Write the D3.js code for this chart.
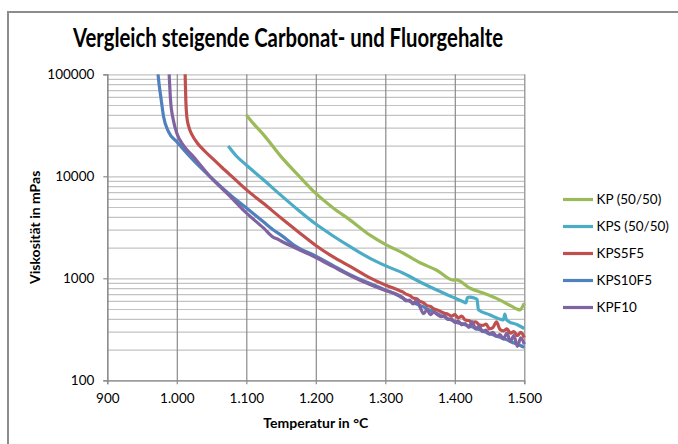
<!DOCTYPE html>
<html>
<head>
<meta charset="utf-8">
<script src="https://cdn.jsdelivr.net/npm/d3@7"></script>
<style>
  body { margin: 0; background: #fff; }
  svg { display: block; }
  text { font-family: Lato, "Liberation Sans", sans-serif; fill: #000; }
</style>
</head>
<body>
<div id="chart"></div>
<script>
// series values (temperature in °C, viscosity in mPas)
var kpT = [1100, 1110, 1125, 1150, 1175, 1200, 1225, 1250, 1278, 1300, 1326, 1350, 1374, 1398, 1402, 1422, 1440, 1460, 1480, 1490, 1494, 1497, 1500];
var kpV = [40000, 33000, 25500, 15600, 10200, 6800, 4900, 3700, 2650, 2150, 1760, 1420, 1200, 960, 965, 800, 720, 635, 540, 497, 490, 520, 570];

var kpsT = [1074, 1085, 1100, 1125, 1150, 1175, 1200, 1225, 1250, 1278, 1300, 1326, 1350, 1374, 1400, 1412, 1416, 1418, 1421, 1428, 1432, 1434, 1450, 1470, 1472, 1474, 1477, 1490, 1500];
var kpsV = [19800, 16000, 12900, 9200, 6500, 4650, 3400, 2600, 2030, 1570, 1330, 1120, 920, 767, 640, 590, 575, 645, 655, 640, 620, 490, 440, 392, 445, 395, 380, 350, 322];

var kps5T = [1012, 1013, 1014.5, 1017, 1022, 1030, 1040, 1052, 1065, 1081, 1100, 1125, 1150, 1175, 1200, 1225, 1250, 1278, 1300,
  1320, 1325, 1330, 1335, 1340, 1345, 1350, 1355, 1360, 1365, 1370, 1375, 1380, 1385, 1390, 1395, 1400, 1405, 1410, 1415,
  1420, 1425, 1430, 1435, 1440, 1445, 1450, 1455, 1460, 1465, 1470, 1475, 1480, 1485, 1490, 1495, 1500];
var kps5V = [100000, 55000, 38000, 31000, 25500, 21000, 17700, 14800, 12200, 9700, 7400, 5400, 3900, 2850, 2100, 1620, 1300, 1010, 860,
  760, 735, 700, 680, 640, 630, 595, 575, 540, 530, 500, 490, 470, 455, 445, 425, 440, 410, 425, 390,
  385, 370, 375, 350, 345, 355, 320, 330, 375, 315, 305, 320, 290, 300, 275, 295, 262];

var kps10T = [973, 975, 977, 981, 988, 1000, 1019, 1048, 1077, 1098, 1125, 1139, 1150, 1172, 1200, 1225, 1250, 1278, 1300,
  1320, 1325, 1330, 1335, 1340, 1345, 1350, 1355, 1360, 1365, 1370, 1375, 1380, 1385, 1390, 1395, 1400, 1405, 1410, 1415,
  1420, 1425, 1430, 1435, 1440, 1445, 1450, 1455, 1460, 1465, 1470, 1475, 1480, 1485, 1490, 1495, 1500];
var kps10V = [100000, 75000, 60000, 38400, 27400, 21800, 15560, 9900, 6560, 5030, 3560, 2980, 2650, 2040, 1650, 1330, 1080, 890, 770,
  670, 640, 615, 595, 575, 560, 540, 525, 500, 485, 465, 450, 430, 420, 400, 390, 375, 365, 360, 350,
  340, 335, 320, 315, 305, 295, 285, 280, 270, 265, 255, 250, 240, 232, 225, 218, 210];

var kpf10T = [989, 991, 995, 1001, 1009, 1024, 1048, 1077, 1098, 1125, 1139, 1144, 1150, 1177, 1200, 1225, 1250, 1278, 1300,
  1320, 1325, 1330, 1335, 1340, 1345, 1350, 1355, 1360, 1365, 1370, 1375, 1380, 1385, 1390, 1395, 1400, 1405, 1410, 1415,
  1420, 1425, 1430, 1435, 1440, 1445, 1450, 1455, 1460, 1465, 1470, 1475, 1480, 1485, 1490, 1495, 1500];
var kpf10V = [100000, 55900, 35600, 25400, 20300, 15560, 9900, 6310, 4500, 3100, 2520, 2440, 2320, 1890, 1600, 1300, 1060, 870, 760,
  680, 650, 600, 610, 560, 610, 520, 450, 490, 440, 470, 440, 420, 430, 395, 400, 370, 380, 350, 360,
  330, 375, 320, 340, 300, 310, 285, 295, 270, 280, 255, 290, 240, 275, 215, 260, 225];

var seriesNames = ['KP (50/50)', 'KPS (50/50)', 'KPS5F5', 'KPS10F5', 'KPF10'];
var seriesColors = ['#9bbb59', '#4bacc6', '#c0504d', '#4f81bd', '#8064a2'];
var xTicks = [900, 1000, 1100, 1200, 1300, 1400, 1500];
var yTicks = [100, 1000, 10000, 100000];

var series = [
  { t: kpT, v: kpV }, { t: kpsT, v: kpsV }, { t: kps5T, v: kps5V },
  { t: kps10T, v: kps10V }, { t: kpf10T, v: kpf10V }
];

var W = 678, H = 444;
var pLeft = 107.3, pRight = 524.3, pTop = 74.3, pBottom = 380.3;

var de = d3.formatLocale({ decimal: ',', thousands: '.', grouping: [3], currency: ['', ' €'] });
var fmtX = de.format(',d');

var x = d3.scaleLinear().domain([900, 1500]).range([pLeft, pRight]);
var y = d3.scaleLog().domain([100, 100000]).range([pBottom, pTop]);

var svg = d3.select('#chart').append('svg')
  .attr('width', W).attr('height', H);

// chart frame (right and bottom edges lie outside the picture)
svg.append('line').attr('x1', 8).attr('y1', 12).attr('x2', 8).attr('y2', H)
  .attr('stroke', '#8c8c8c').attr('stroke-width', 2);
svg.append('line').attr('x1', 7).attr('y1', 12).attr('x2', W).attr('y2', 12)
  .attr('stroke', '#8c8c8c').attr('stroke-width', 2);

svg.append('text')
  .attr('x', 288).attr('y', 47)
  .attr('text-anchor', 'middle')
  .style('font-size', '26px').style('font-weight', 'bold')
  .attr('textLength', 430).attr('lengthAdjust', 'spacingAndGlyphs')
  .text('Vergleich steigende Carbonat- und Fluorgehalte');

// horizontal grid (all log ticks)
svg.append('g')
  .attr('transform', 'translate(' + pLeft + ',0)')
  .call(d3.axisLeft(y).tickSize(-(pRight - pLeft)).tickFormat(''))
  .call(function(g) {
    g.select('.domain').remove();
    g.selectAll('line').attr('stroke', '#c3c3c3').attr('stroke-width', 1.2);
  });

// vertical grid
svg.append('g')
  .attr('transform', 'translate(0,' + pTop + ')')
  .call(d3.axisBottom(x).tickValues(xTicks).tickSize(pBottom - pTop).tickFormat(''))
  .call(function(g) {
    g.select('.domain').remove();
    g.selectAll('line').attr('stroke', '#8a8a8a').attr('stroke-width', 1.2);
  });

// axes
var yAxis = svg.append('g')
  .attr('transform', 'translate(' + pLeft + ',0)')
  .call(d3.axisLeft(y).tickValues(yTicks).tickSize(4).tickPadding(9).tickFormat(d3.format('d')));
var xAxis = svg.append('g')
  .attr('transform', 'translate(0,' + pBottom + ')')
  .call(d3.axisBottom(x).tickValues(xTicks).tickSize(4).tickPadding(9).tickFormat(fmtX));
[yAxis, xAxis].forEach(function(a) {
  a.select('.domain').attr('stroke', '#8a8a8a').attr('stroke-width', 1.2);
  a.selectAll('.tick line').attr('stroke', '#8a8a8a').attr('stroke-width', 1.2);
  a.selectAll('.tick text')
    .style('font-family', 'Lato, sans-serif').style('font-size', '13.5px').attr('fill', '#000');
});

svg.append('text')
  .attr('x', (pLeft + pRight) / 2).attr('y', 428)
  .attr('text-anchor', 'middle')
  .style('font-size', '14px').style('font-weight', 'bold')
  .text('Temperatur in °C');

svg.append('text')
  .attr('transform', 'translate(40,' + ((pTop + pBottom) / 2) + ') rotate(-90)')
  .attr('text-anchor', 'middle')
  .style('font-size', '14px').style('font-weight', 'bold')
  .text('Viskosität in mPas');

svg.append('clipPath').attr('id', 'plot')
  .append('rect').attr('x', pLeft).attr('y', pTop - 1)
  .attr('width', pRight - pLeft + 2).attr('height', pBottom - pTop + 1);

var line = d3.line()
  .x(function(d) { return x(d[0]); })
  .y(function(d) { return y(d[1]); })
  .curve(d3.curveMonotoneX);

svg.append('g').attr('clip-path', 'url(#plot)')
  .selectAll('path').data(series).enter().append('path')
  .attr('d', function(s) { return line(s.t.map(function(t, i) { return [t, s.v[i]]; })); })
  .attr('fill', 'none')
  .attr('stroke', function(s, i) { return seriesColors[i]; })
  .attr('stroke-width', 3.2)
  .attr('stroke-linejoin', 'round');

var legend = svg.append('g');
seriesNames.forEach(function(name, i) {
  var ly = 199.5 + i * 27;
  legend.append('line')
    .attr('x1', 563).attr('x2', 593).attr('y1', ly).attr('y2', ly)
    .attr('stroke', seriesColors[i]).attr('stroke-width', 3.2);
  legend.append('text')
    .attr('x', 596.5).attr('y', ly).attr('dy', '0.36em')
    .style('font-size', '13.5px')
    .text(name);
});
</script>
</body>
</html>
